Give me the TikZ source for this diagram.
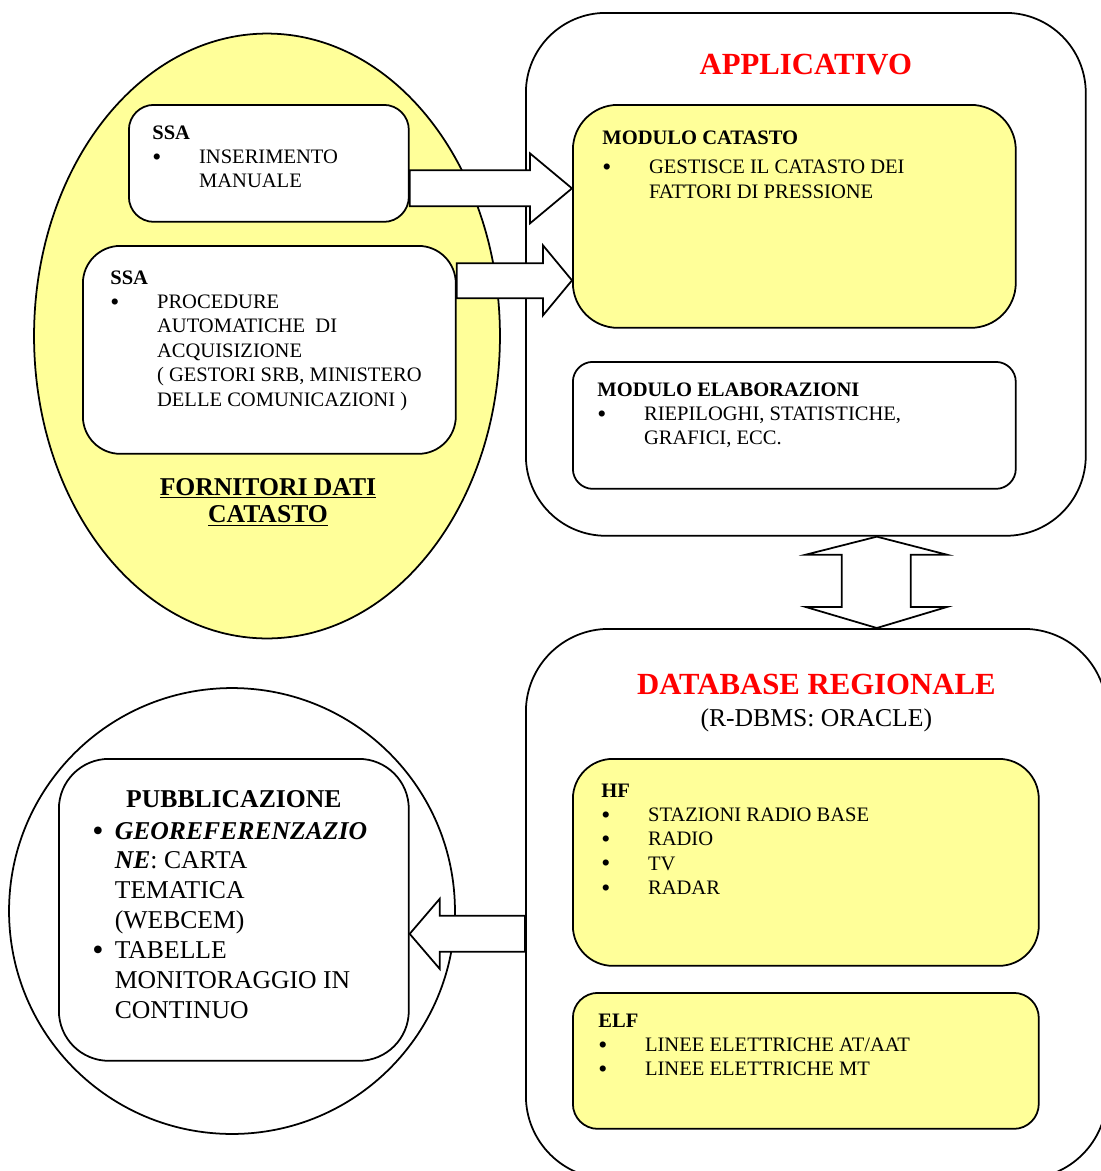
\documentclass[tikz,border=0pt]{standalone}
\usepackage{fontspec}
\usepackage{graphicx}
\setmainfont{Liberation Serif}
\usetikzlibrary{calc,positioning,shapes.geometric}
\pgfdeclarelayer{sfondo}
\pgfdeclarelayer{frecce}
\pgfsetlayers{sfondo,frecce,main}
\definecolor{giallo}{HTML}{FFFF99}
\newcommand{\pallino}{\smash{\raisebox{-0.08em}{\scalebox{1.25}{\textbullet}}}}
\tikzset{
  box/.style={draw, line width=1pt, anchor=north west, inner sep=0pt},
  barrow/.style={draw, fill=white, line width=1pt, line join=miter},
  txt/.style={anchor=base west, inner sep=0pt, font={\fontsize{11.7}{13.9}\selectfont}},
  titolo/.style={anchor=base, inner sep=0pt, text=red, font={\fontsize{17.5}{21}\selectfont\bfseries}},
}
\begin{document}
\begin{tikzpicture}[x=0.02cm, y=-0.02cm]
		\useasboundingbox (0,0) rectangle (1100,1171);
		%Sfondo
		\begin{pgfonlayer}{sfondo}
		\node[ellipse, draw, fill=giallo, line width=1pt, inner sep=0pt, minimum width=9.32cm, minimum height=12.1cm] (forn) at (267,336) {};
		\node[circle, draw, fill=white, line width=1pt, inner sep=0pt, minimum size=8.92cm] (cerchio) at (232,911) {};
		\node[box, fill=white, rounded corners=1.6cm, minimum width=11.2cm, minimum height=10.46cm] (app) at (525,12) {};
		\node[box, fill=white, rounded corners=1.66cm, minimum width=11.62cm, minimum height=11cm] (db) at (525,628) {};
		\end{pgfonlayer}
		%Fornitori
		\node[box, fill=white, rounded corners=0.5cm, minimum width=5.6cm, minimum height=2.34cm] (ssaA) at (128,104) {};
		\node[box, fill=white, rounded corners=0.75cm, minimum width=7.46cm, minimum height=4.16cm] (ssaB) at (82,245) {};
		\node[txt] (ssaAtxt) at ($(ssaA.north west)+(24,35)$) {\begin{tabular}[t]{@{}p{26.6pt}@{}l@{}}
			\multicolumn{2}{@{}l@{}}{\textbf{SSA}}\\
			\pallino & INSERIMENTO\\
			& MANUALE
		\end{tabular}};
		\node[txt] (ssaBtxt) at ($(ssaB.north west)+(28,39)$) {\begin{tabular}[t]{@{}p{26.6pt}@{}l@{}}
			\multicolumn{2}{@{}l@{}}{\textbf{SSA}}\\
			\pallino & PROCEDURE\\
			& AUTOMATICHE\ \ DI\\
			& ACQUISIZIONE\\
			& ( GESTORI SRB, MINISTERO\\
			& DELLE COMUNICAZIONI )
		\end{tabular}};
		\node[anchor=base, inner sep=0pt, font={\fontsize{14.6}{15.9}\selectfont\bfseries}] (forntxt) at ($(forn.center)+(1,159)$) {\begin{tabular}[t]{@{}c@{}}
			\underline{FORNITORI DATI}\\
			\underline{CATASTO}
		\end{tabular}};
		%Applicativo
		\node[titolo] (apptit) at ($(app.north)+(0,62)$) {APPLICATIVO};
		\node[box, fill=giallo, rounded corners=0.9cm, minimum width=8.86cm, minimum height=4.46cm] (catasto) at (572,104) {};
		\node[box, fill=white, rounded corners=0.4cm, minimum width=8.86cm, minimum height=2.54cm] (elab) at (572,361) {};
		\node[txt] (catastotxt) at ($(catasto.north west)+(30,40)$) {\begin{tabular}[t]{@{}p{26.6pt}@{}l@{}}
			\multicolumn{2}{@{}l@{}}{\textbf{MODULO CATASTO}}\\[3pt]
			\pallino & GESTISCE IL CATASTO DEI\\
			& FATTORI DI PRESSIONE
		\end{tabular}};
		\node[txt] (elabtxt) at ($(elab.north west)+(25,35)$) {\begin{tabular}[t]{@{}p{26.6pt}@{}l@{}}
			\multicolumn{2}{@{}l@{}}{\textbf{MODULO ELABORAZIONI}}\\
			\pallino & RIEPILOGHI, STATISTICHE,\\
			& GRAFICI, ECC.
		\end{tabular}};
		%Database
		\node[titolo] (dbtit) at ($(db.north)+(0,66)$) {DATABASE REGIONALE};
		\node[anchor=base, inner sep=0pt, font={\fontsize{14.6}{17}\selectfont}] (dbsub) at ($(db.north)+(0,98)$) {(R-DBMS: ORACLE)};
		\node[box, fill=giallo, rounded corners=0.8cm, minimum width=9.32cm, minimum height=4.14cm] (hf) at (572,758) {};
		\node[box, fill=giallo, rounded corners=0.5cm, minimum width=9.32cm, minimum height=2.72cm] (elf) at (572,992) {};
		\node[txt] (hftxt) at ($(hf.north west)+(29,39)$) {\begin{tabular}[t]{@{}p{26.6pt}@{}l@{}}
			\multicolumn{2}{@{}l@{}}{\textbf{HF}}\\
			\pallino & STAZIONI RADIO BASE\\
			\pallino & RADIO\\
			\pallino & TV\\
			\pallino & RADAR
		\end{tabular}};
		\node[txt] (elftxt) at ($(elf.north west)+(26,35)$) {\begin{tabular}[t]{@{}p{26.6pt}@{}l@{}}
			\multicolumn{2}{@{}l@{}}{\textbf{ELF}}\\
			\pallino & LINEE ELETTRICHE AT/AAT\\
			\pallino & LINEE ELETTRICHE MT
		\end{tabular}};
		%Pubblicazione
		\node[box, fill=white, rounded corners=1cm, minimum width=7cm, minimum height=6.04cm] (pub) at (58,758) {};
		\node[anchor=base, inner sep=0pt, font={\fontsize{14.6}{17}\selectfont\bfseries}] (pubtit) at ($(pub.north)+(0,49)$) {PUBBLICAZIONE};
		\node[txt, font={\fontsize{14.6}{17}\selectfont}] (pubtxt) at ($(pub.north west)+(34,81)$) {\begin{tabular}[t]{@{}p{12.8pt}@{}l@{}}
			\pallino & \textbf{\textit{GEOREFERENZAZIO}}\\
			& \textbf{\textit{NE}}: CARTA\\
			& TEMATICA\\
			& (WEBCEM)\\
			\pallino & TABELLE\\
			& MONITORAGGIO IN\\
			& CONTINUO
		\end{tabular}};
		%Frecce
		\coordinate (tipA) at ($(catasto.west)+(0,-28)$);
		\coordinate (tipB) at ($(catasto.west)+(0,64)$);
		\coordinate (tipC) at ($(pub.east)+(0,24)$);
		\coordinate (dtop) at ($(app.south)+(71,0)$);
		\coordinate (dbot) at (dtop |- db.north);
		\begin{pgfonlayer}{frecce}
		\draw[barrow] (tipA) -- ($(tipA)+(-42,-35)$) -- ($(tipA)+(-42,-18)$) -- ($(ssaA.east |- tipA)+(0,-18)$)
			-- ($(ssaA.east |- tipA)+(0,18)$) -- ($(tipA)+(-42,18)$) -- ($(tipA)+(-42,35)$) -- cycle;
		\draw[barrow] (tipB) -- ($(tipB)+(-29,-35)$) -- ($(tipB)+(-29,-17)$) -- ($(ssaB.east |- tipB)+(0,-17)$)
			-- ($(ssaB.east |- tipB)+(0,18)$) -- ($(tipB)+(-29,18)$) -- ($(tipB)+(-29,35)$) -- cycle;
		\draw[barrow] (tipC) -- ($(tipC)+(30,-35)$) -- ($(tipC)+(30,-18)$) -- ($(db.west |- tipC)+(0,-18)$)
			-- ($(db.west |- tipC)+(0,18)$) -- ($(tipC)+(30,18)$) -- ($(tipC)+(30,35)$) -- cycle;
		\draw[barrow] (dtop) -- ($(dtop)+(70,18)$) -- ($(dtop)+(34,18)$) -- ($(dbot)+(34,-21)$) -- ($(dbot)+(70,-21)$)
			-- (dbot) -- ($(dbot)+(-71,-21)$) -- ($(dbot)+(-35,-21)$) -- ($(dtop)+(-35,18)$) -- ($(dtop)+(-71,18)$) -- cycle;
		\end{pgfonlayer}
\end{tikzpicture}
\end{document}
